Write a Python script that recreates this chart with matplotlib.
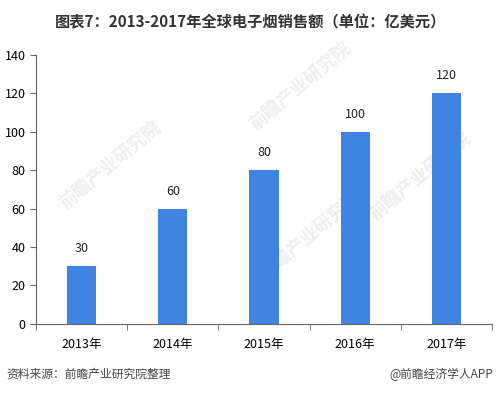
import matplotlib.pyplot as plt

plt.rcParams['font.family'] = ['Noto Sans CJK SC', 'DejaVu Sans']

years = ['2013年', '2014年', '2015年', '2016年', '2017年']
sales = [30, 60, 80, 100, 120]

fig = plt.figure(figsize=(5.01, 3.93), dpi=100)
ax = fig.add_axes([0.072, 0.176, 0.910, 0.684])

# faint watermarks, drawn behind the axes
for x, y in [(0.22, 0.58), (0.60, 0.78), (0.62, 0.40), (0.84, 0.55)]:
    fig.text(x, y, '前瞻产业研究院', fontsize=13, color='#eeeeee',
             rotation=40, ha='center', va='center', fontweight='bold', zorder=-1)

pos = range(len(years))
ax.bar(pos, sales, width=0.32, color='#3f84e0', zorder=2)
for x, v in zip(pos, sales):
    ax.annotate(str(v), (x, v), xytext=(0, 8), textcoords='offset points',
                ha='center', va='bottom', fontsize=9, color='#222222')

ax.set_xlim(-0.5, len(years) - 0.5)
ax.set_ylim(0, 140)
ax.set_yticks(range(0, 141, 20))
ax.set_xticks(pos)
ax.set_xticklabels(years)
ax.set_xticks([i - 0.5 for i in range(len(years) + 1)], minor=True)
ax.tick_params(axis='x', which='major', length=0, labelsize=9, pad=10)
ax.tick_params(axis='x', which='minor', length=4, color='#666666')
ax.tick_params(axis='y', length=4, color='#666666', labelsize=9)
ax.spines['top'].set_visible(False)
ax.spines['right'].set_visible(False)
for s in ['left', 'bottom']:
    ax.spines[s].set_color('#666666')
ax.patch.set_alpha(0)

fig.text(0.5, 0.944, '图表7：2013-2017年全球电子烟销售额（单位：亿美元）',
         ha='center', va='center', fontsize=11, fontweight='bold', color='#333333')
fig.text(0.012, 0.048, '资料来源：前瞻产业研究院整理', ha='left', va='center',
         fontsize=8.5, style='italic', color='#444444')
fig.text(0.985, 0.048, '@前瞻经济学人APP', ha='right', va='center',
         fontsize=8.5, color='#444444')

fig.savefig('out.png', dpi=100)
